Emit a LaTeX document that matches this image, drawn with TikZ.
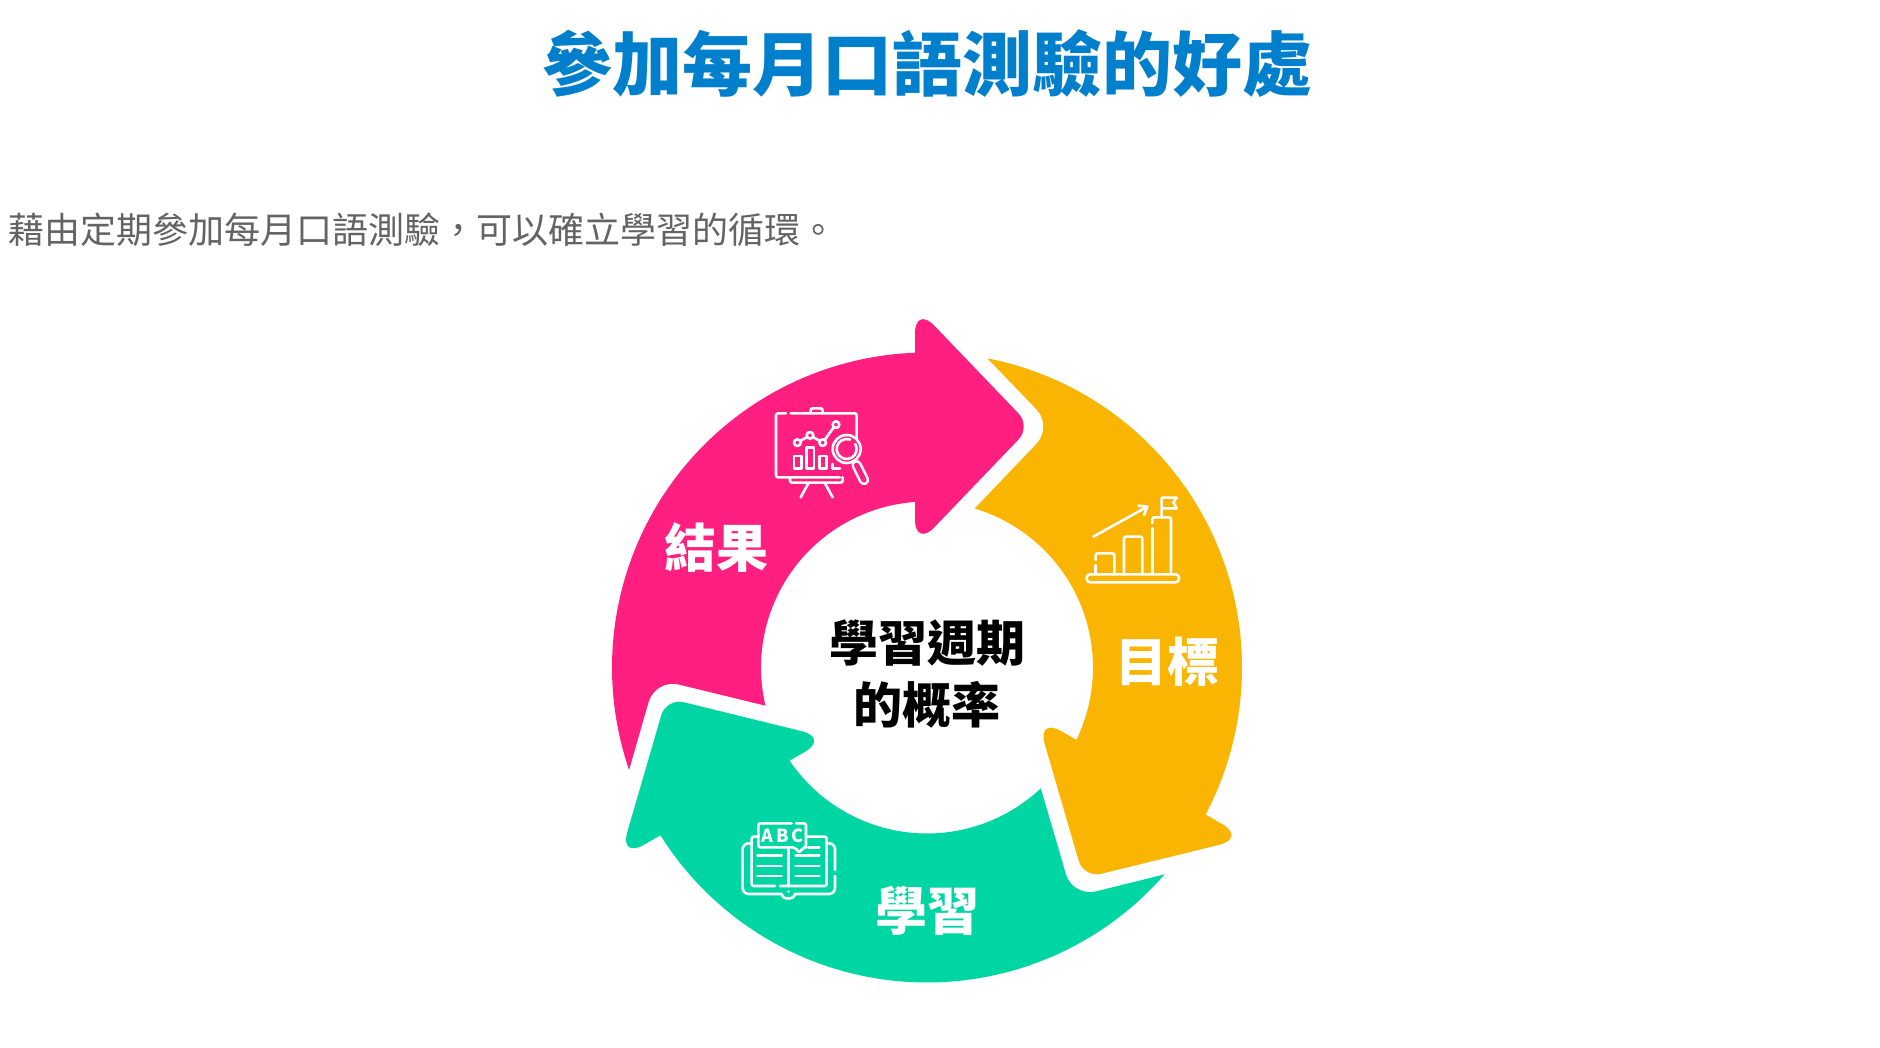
\documentclass[tikz,border=0pt]{standalone}
\usepackage{fontspec}
\setmainfont{Noto Sans CJK TC}
\definecolor{titleblue}{HTML}{0080CC}
\definecolor{subgrey}{HTML}{636363}
\definecolor{segpink}{HTML}{FF1F80}
\definecolor{segamber}{HTML}{FAB402}
\definecolor{segteal}{HTML}{00D6A3}
\tikzset{
  seg/.pic={
    \fill[pic actions] (198.95:315) arc[start angle=198.95,end angle=92.18,radius=315]
      [rounded corners=28] -- (-12,362) [rounded corners=18] -- (104,241) [rounded corners=28] -- (-12,120) [sharp corners]
      -- (94.14:166) arc[start angle=94.14,end angle=193.3,radius=166]
      [rounded corners=24] -- (-271.7,-11.3) [sharp corners] -- cycle;
  },
  seglabel/.style={text=white,font=\fontsize{52}{52}\selectfont\bfseries,inner sep=0pt,anchor=center},
  centrelabel/.style={text=black,font=\fontsize{49}{62}\selectfont\bfseries,align=center,inner sep=0pt,anchor=center},
}
\begin{document}
\begin{tikzpicture}[x=1pt,y=-1pt]
\useasboundingbox (0,0) rectangle (1880,1048);
\fill[white] (0,0) rectangle (1880,1048);
\node (title) at (927.5,64) [text=titleblue,font=\fontsize{70}{70}\selectfont\bfseries,inner sep=0pt] {參加每月口語測驗的好處};
\node (subtitle) at (8,230) [anchor=west,text=subgrey,font=\fontsize{36}{36}\selectfont,inner sep=0pt] {藉由定期參加每月口語測驗，可以確立學習的循環。};
% ring
\begin{scope}[shift={(927,667.5)},x=1pt,y=1pt]
  \pic[fill=segpink] {seg};
  \pic[fill=segamber,rotate=-120] {seg};
  \pic[fill=segteal,rotate=120] {seg};
\end{scope}
% labels
\node[seglabel] (lresult) at (716,548) {結果};
\node[seglabel] (lgoal) at (1167,662) {目標};
\node[seglabel] (lstudy) at (927,911) {學習};
\node[centrelabel] (lcentre) at (927,674) {學習週期\\的概率};
% presentation icon
\begin{scope}[shift={(760,400)},x=0.3333pt,y=-0.3333pt,line width=2.6pt,line cap=round,line join=round]
  \draw[white,rounded corners=2pt] (78,40) -- (48,40) -- (48,232) -- (240,232);
  \draw[white,rounded corners=2pt] (92,40) -- (290,40) -- (290,115);
  \draw[white,rounded corners=2pt] (152,40) -- (152,25) -- (188,25) -- (188,40);
  \draw[white,rounded corners=2pt] (90,232) -- (90,248) -- (248,248) -- (248,232);
  \draw[white] (145,250) -- (122,292) (195,250) -- (218,292);
  \draw[white] (120,123) -- (142,111) (158,111) -- (180,123) (194,120) -- (221,82);
  \draw[white] (112,128) circle[radius=10] (150,106) circle[radius=10] (188,128) circle[radius=10] (228,74) circle[radius=10];
  \draw[white] (102,168) rectangle (124,206) (140,143) rectangle (162,206) (178,168) rectangle (200,206);
  \draw[white] (218,192) -- (218,206) -- (240,206);
  \draw[white,line width=10.5pt] (290,196) -- (312,240);
  \draw[segpink,line width=5.3pt] (290,196) -- (312,240);
  \fill[segpink] (260,147) circle[radius=42];
  \draw[white] (260,147) circle[radius=42];
  \draw[white] (286,132) arc[start angle=-30,end angle=290,radius=30];
\end{scope}
% book icon
\begin{scope}[shift={(730,810)},x=0.3333pt,y=-0.3333pt,line width=2.6pt,line cap=round,line join=round]
  \draw[white,rounded corners=2pt] (185,40) -- (85,40) -- (85,112) -- (195,112) -- (207,128) -- (222,112) -- (228,112) -- (228,40) -- (198,40);
  \draw[white,rounded corners=2pt] (85,80) -- (65,80) -- (65,228) -- (135,228);
  \draw[white,rounded corners=2pt] (150,228) -- (290,228) -- (290,80) -- (228,80);
  \draw[white] (175,112) -- (175,228);
  \draw[white,rounded corners=6pt] (65,100) -- (38,100) -- (38,252) -- (155,252);
  \draw[white,rounded corners=3pt] (155,252) -- (160,265) -- (190,265) -- (195,252);
  \draw[white,rounded corners=6pt] (195,252) -- (315,252) -- (315,198);
  \draw[white,rounded corners=6pt] (315,180) -- (315,100) -- (290,100);
  \fill[white] (175,245) circle[radius=4];
  \draw[white] (82,137) -- (155,137) (82,168) -- (155,168) (82,198) -- (155,198);
  \draw[white] (197,137) -- (268,137) (197,168) -- (268,168) (197,198) -- (268,198) (235,112) -- (268,112);
  \node[text=white,font=\fontsize{18}{18}\selectfont\bfseries,inner sep=0pt] (abc) at (157,76) {A\,B\,C};
\end{scope}
% chart icon
\begin{scope}[shift={(1075,485)},x=0.3333pt,y=-0.3333pt,line width=2.6pt,line cap=round,line join=round]
  \draw[white,rounded corners=3.5pt] (35,268) rectangle (312,292);
  \draw[white] (62,268) -- (62,240);
  \draw[white,rounded corners=2pt] (62,225) -- (62,205) -- (118,205) -- (118,268);
  \draw[white,rounded corners=2pt] (147,268) -- (147,155) -- (202,155) -- (202,268);
  \draw[white] (232,268) -- (232,130);
  \draw[white,rounded corners=2pt] (232,115) -- (232,97) -- (288,97) -- (288,268);
  \draw[white] (260,97) -- (260,38) -- (305,38) -- (295,52) -- (305,70) -- (260,70);
  \draw[white] (55,155) -- (217,65) (190,62) -- (217,65) -- (207,90);
\end{scope}
\end{tikzpicture}
\end{document}
